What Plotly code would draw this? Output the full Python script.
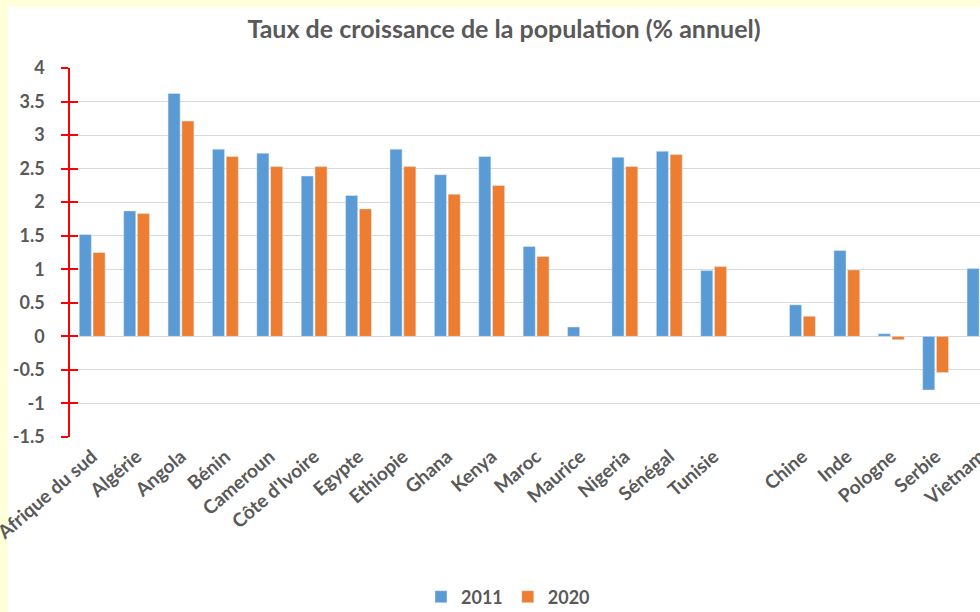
import plotly.graph_objects as go

categories = ["Afrique du sud", "Algérie", "Angola", "Bénin", "Cameroun", "Côte d'Ivoire",
              "Egypte", "Ethiopie", "Ghana", "Kenya", "Maroc", "Maurice", "Nigeria",
              "Sénégal", "Tunisie", " ", "Chine", "Inde", "Pologne", "Serbie", "Vietnam"]
values_2011 = [1.52, 1.87, 3.62, 2.79, 2.73, 2.39, 2.10, 2.79, 2.41, 2.68, 1.34, 0.14, 2.67,
               2.76, 0.98, None, 0.47, 1.28, 0.04, -0.80, 1.01]
values_2020 = [1.25, 1.83, 3.21, 2.68, 2.53, 2.53, 1.90, 2.53, 2.12, 2.25, 1.19, None, 2.53,
               2.71, 1.04, None, 0.30, 0.99, -0.05, -0.54, 0.91]
series_names = ["2011", "2020"]
y_ticks = [4, 3.5, 3, 2.5, 2, 1.5, 1, 0.5, 0, -0.5, -1, -1.5]
title_text = "Taux de croissance de la population (% annuel)"

BLUE = "#5B9BD5"
ORANGE = "#ED7D31"
GREY = "#595959"
FONT = "Lato"

fig = go.Figure()
fig.add_trace(go.Bar(x=categories, y=values_2011, name=series_names[0], marker_color=BLUE))
fig.add_trace(go.Bar(x=categories, y=values_2020, name=series_names[1], marker_color=ORANGE))
# invisible helper trace to carry the inside-tick overlay axis
fig.add_trace(go.Scatter(x=[categories[0]], y=[None], yaxis="y2", showlegend=False,
                         hoverinfo="skip", mode="markers"))

tickvals = y_ticks
ticktext = [f"<b>{v:g}</b>" for v in y_ticks]

fig.update_layout(
    width=980, height=612,
    paper_bgcolor="#FFFFD9",
    plot_bgcolor="white",
    margin=dict(l=70, r=0, t=68, b=175, autoexpand=False),
    barmode="group",
    bargap=0.38,
    bargroupgap=0.12,
    title=dict(text="<b>" + title_text + "</b>", x=504 / 980, xanchor="center",
               xref="container", y=1 - 29 / 612, yanchor="middle", yref="container",
               font=dict(family=FONT, size=25, color=GREY)),
    font=dict(family=FONT, color=GREY),
    xaxis=dict(range=[-0.5, 20.0], tickangle=-41, showgrid=False, showline=False,
               ticks="", zeroline=False, automargin=False,
               tickfont=dict(family=FONT, size=19, color=GREY, weight="bold"),
               ticklabelstandoff=4, fixedrange=True),
    yaxis=dict(range=[-1.5, 4], tickvals=tickvals, ticktext=ticktext, automargin=False,
               showgrid=True, gridcolor="#D9D9D9", gridwidth=1.3,
               zeroline=True, zerolinecolor="#D9D9D9", zerolinewidth=1.3,
               showline=True, linecolor="#FF0000", linewidth=1.5,
               ticks="outside", ticklen=7, tickcolor="#FF0000", tickwidth=1.5,
               ticklabelstandoff=13,
               tickfont=dict(family=FONT, size=18, color=GREY)),
    yaxis2=dict(range=[-1.5, 4], tickvals=tickvals, overlaying="y", side="left",
                showgrid=False, zeroline=False, showline=False, showticklabels=False,
                automargin=False,
                ticks="inside", ticklen=8, tickcolor="#FF0000", tickwidth=1.5),
    legend=dict(orientation="h", x=508 / 980, xanchor="center", xref="container",
                y=1 - 597 / 612, yanchor="middle", yref="container",
                bgcolor="rgba(0,0,0,0)",
                font=dict(family=FONT, size=18, color=GREY, weight="bold"), itemwidth=30,
                traceorder="normal"),
    shapes=[dict(type="rect", xref="paper", yref="paper", layer="below",
                 x0=(8 - 70) / 910, x1=1.0, y0=-175 / 369, y1=1 + 61 / 369,
                 fillcolor="white", line=dict(width=0))],
    showlegend=True,
)

fig.write_html("out.html", config={"displayModeBar": False},
               post_script="document.body.style.margin='0px';"
                           "document.body.style.overflow='hidden';")
